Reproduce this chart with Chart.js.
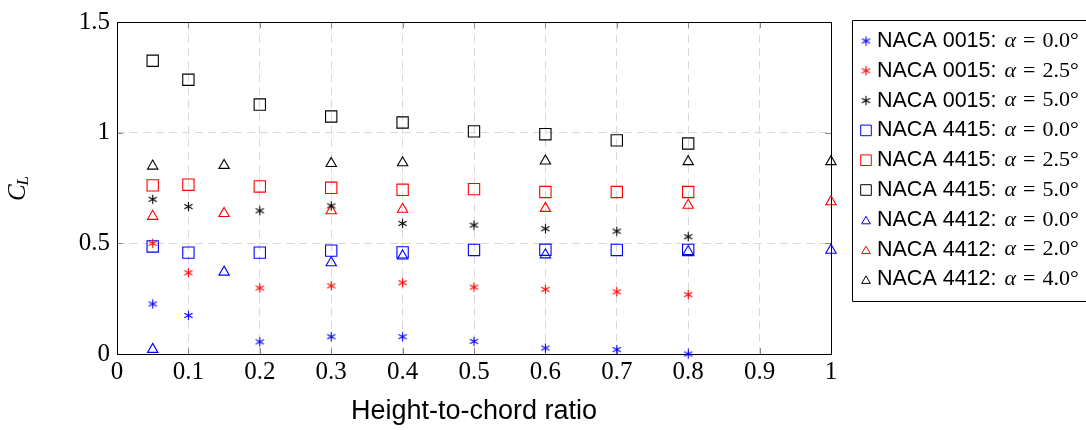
<!DOCTYPE html>
<html>
<head>
<meta charset="utf-8">
<title>Lift coefficient vs height-to-chord ratio</title>
<script src="https://cdn.jsdelivr.net/npm/chart.js@4.4.0/dist/chart.umd.min.js"></script>
<style>
  html, body { margin: 0; padding: 0; background: #fff; }
  #wrap { width: 1086px; height: 430px; position: relative; }
</style>
</head>
<body>
<div id="wrap"><canvas id="clChart" width="1086" height="430"></canvas></div>
<script>
// height-to-chord ratios of the runs
const ratios = [0.05, 0.1, 0.2, 0.3, 0.4, 0.5, 0.6, 0.7, 0.8];
const ratios4412 = [0.05, 0.15, 0.3, 0.4, 0.6, 0.8, 1.0];

// lift coefficient C_L per run
const cl0015a00 = [0.226, 0.174, 0.055, 0.078, 0.078, 0.057, 0.027, 0.020, 0.000];
const cl0015a25 = [0.500, 0.367, 0.298, 0.308, 0.322, 0.302, 0.292, 0.281, 0.268];
const cl0015a50 = [0.699, 0.666, 0.647, 0.669, 0.590, 0.582, 0.566, 0.555, 0.530];
const cl4415a00 = [0.486, 0.458, 0.458, 0.467, 0.459, 0.470, 0.471, 0.470, 0.470];
const cl4415a25 = [0.762, 0.765, 0.757, 0.751, 0.742, 0.745, 0.732, 0.732, 0.732];
const cl4415a50 = [1.325, 1.239, 1.127, 1.073, 1.046, 1.006, 0.993, 0.965, 0.951];
const cl4412a00 = [0.021, 0.370, 0.412, 0.443, 0.448, 0.463, 0.469];
const cl4412a20 = [0.622, 0.635, 0.647, 0.654, 0.658, 0.672, 0.688];
const cl4412a40 = [0.849, 0.852, 0.861, 0.864, 0.872, 0.869, 0.869];

// axis ticks
const xTickValues = [0, 0.1, 0.2, 0.3, 0.4, 0.5, 0.6, 0.7, 0.8, 0.9, 1];
const xTickLabels = ['0', '0.1', '0.2', '0.3', '0.4', '0.5', '0.6', '0.7', '0.8', '0.9', '1'];
const yTickValues = [0, 0.5, 1, 1.5];
const yTickLabels = ['0', '0.5', '1', '1.5'];

// legend texts: profile name and angle of attack
const seriesNames = ['NACA 0015', 'NACA 0015', 'NACA 0015', 'NACA 4415', 'NACA 4415', 'NACA 4415', 'NACA 4412', 'NACA 4412', 'NACA 4412'];
const seriesAngles = ['0.0°', '2.5°', '5.0°', '0.0°', '2.5°', '5.0°', '0.0°', '2.0°', '4.0°'];

const BLUE = '#0000ff';
const RED = '#ff0000';
const BLACK = '#000000';
const legendColors = [BLUE, RED, BLACK, BLUE, RED, BLACK, BLUE, RED, BLACK];

// six-armed asterisk mark, drawn once per colour
function makeAsterisk(color) {
    const size = 11;
    const c = document.createElement('canvas');
    c.width = size;
    c.height = size;
    const g = c.getContext('2d');
    g.strokeStyle = color;
    g.lineWidth = 1.1;
    const m = size / 2;
    const r = 4.7;
    for (let k = 0; k < 3; k++) {
        const a = Math.PI / 2 + k * Math.PI / 3;
        g.beginPath();
        g.moveTo(m + r * Math.cos(a), m - r * Math.sin(a));
        g.lineTo(m - r * Math.cos(a), m + r * Math.sin(a));
        g.stroke();
    }
    return c;
}

const toPoints = (xs, ys) => xs.map((x, i) => ({ x: x, y: ys[i] }));

const makeSet = (xs, ys, color, style) => ({
    data: toPoints(xs, ys),
    showLine: false,
    borderColor: color,
    backgroundColor: 'rgba(0,0,0,0)',
    borderWidth: 1.1,
    pointStyle: style === 'asterisk' ? makeAsterisk(color) : style,
    pointRadius: style === 'rect' ? 8 : 6,
    pointHoverRadius: style === 'rect' ? 8 : 6,
    clip: false
});

const datasets = [
    makeSet(ratios, cl0015a00, BLUE, 'asterisk'),
    makeSet(ratios, cl0015a25, RED, 'asterisk'),
    makeSet(ratios, cl0015a50, BLACK, 'asterisk'),
    makeSet(ratios, cl4415a00, BLUE, 'rect'),
    makeSet(ratios, cl4415a25, RED, 'rect'),
    makeSet(ratios, cl4415a50, BLACK, 'rect'),
    makeSet(ratios4412, cl4412a00, BLUE, 'triangle'),
    makeSet(ratios4412, cl4412a20, RED, 'triangle'),
    makeSet(ratios4412, cl4412a40, BLACK, 'triangle')
];

// frame round the plot and short inward ticks on all four sides
const framePlugin = {
    id: 'frame',
    beforeDatasetsDraw(chart) {
        const { ctx, chartArea: a, scales } = chart;
        ctx.save();
        ctx.strokeStyle = '#8a8a8a';
        ctx.lineWidth = 1;
        const t = 6;
        xTickValues.forEach(v => {
            const px = Math.round(scales.x.getPixelForValue(v)) + 0.5;
            ctx.beginPath();
            ctx.moveTo(px, a.bottom); ctx.lineTo(px, a.bottom - t);
            ctx.moveTo(px, a.top); ctx.lineTo(px, a.top + t);
            ctx.stroke();
        });
        yTickValues.forEach(v => {
            const py = Math.round(scales.y.getPixelForValue(v)) + 0.5;
            ctx.beginPath();
            ctx.moveTo(a.left, py); ctx.lineTo(a.left + t, py);
            ctx.moveTo(a.right, py); ctx.lineTo(a.right - t, py);
            ctx.stroke();
        });
        ctx.strokeStyle = '#000';
        ctx.strokeRect(Math.round(a.left) + 0.5, Math.round(a.top) + 0.5,
            Math.round(a.right - a.left), Math.round(a.bottom - a.top));
        ctx.restore();
    }
};

// rotated C_L title of the y axis
const yTitlePlugin = {
    id: 'yTitle',
    afterDraw(chart) {
        const { ctx, chartArea: a } = chart;
        ctx.save();
        ctx.translate(20, (a.top + a.bottom) / 2);
        ctx.rotate(-Math.PI / 2);
        ctx.fillStyle = '#000';
        ctx.textBaseline = 'middle';
        ctx.font = 'italic 25px "Liberation Serif"';
        const wC = ctx.measureText('C').width;
        ctx.font = 'italic 17px "Liberation Serif"';
        const wL = ctx.measureText('L').width;
        const x0 = -(wC + wL) / 2;
        ctx.font = 'italic 25px "Liberation Serif"';
        ctx.fillText('C', x0, -2);
        ctx.font = 'italic 17px "Liberation Serif"';
        ctx.fillText('L', x0 + wC - 1, 4);
        ctx.restore();
    }
};

// legend box at the right edge, mixed sans/serif text
const legendPlugin = {
    id: 'sideLegend',
    afterDraw(chart) {
        const ctx = chart.ctx;
        const left = 852.5, top = 20.5, bottom = 301.5;
        ctx.save();
        ctx.strokeStyle = '#000';
        ctx.lineWidth = 1;
        ctx.beginPath();
        ctx.moveTo(1090, top);
        ctx.lineTo(left, top);
        ctx.lineTo(left, bottom);
        ctx.lineTo(1090, bottom);
        ctx.stroke();

        ctx.textBaseline = 'middle';
        datasets.forEach((ds, i) => {
            const y = 41 + i * 29.8;
            const style = ds.pointStyle;
            // drawPoint strokes with the current context colour
            ctx.save();
            ctx.strokeStyle = legendColors[i];
            ctx.fillStyle = 'rgba(0,0,0,0)';
            ctx.lineWidth = 1;
            Chart.helpers.drawPoint(ctx, {
                pointStyle: style,
                radius: style === 'rect' ? 7.5 : 5,
                borderWidth: 1,
                rotation: 0
            }, 866, y + (style === 'triangle' ? 1.5 : 0));
            ctx.restore();

            ctx.fillStyle = '#000';
            let x = 877;
            ctx.font = '21.5px "Liberation Sans"';
            const head = seriesNames[i] + ':';
            ctx.fillText(head, x, y);
            x += ctx.measureText(head).width + 8;
            ctx.font = 'italic 22px "Liberation Serif"';
            ctx.fillText('α', x, y);
            x += ctx.measureText('α').width + 7;
            ctx.font = '22px "Liberation Serif"';
            ctx.fillText('=', x, y);
            x += ctx.measureText('=').width + 7;
            ctx.fillText(seriesAngles[i], x, y);
        });
        ctx.restore();
    }
};

new Chart(document.getElementById('clChart'), {
    type: 'scatter',
    data: { datasets: datasets },
    plugins: [framePlugin, yTitlePlugin, legendPlugin],
    options: {
        responsive: false,
        animation: false,
        events: [],
        layout: { padding: { left: 0, top: 21, right: 255, bottom: 0 } },
        plugins: {
            legend: { display: false },
            tooltip: { enabled: false }
        },
        scales: {
            x: {
                type: 'linear',
                min: 0,
                max: 1,
                afterBuildTicks: (scale) => { scale.ticks = xTickValues.map(v => ({ value: v })); },
                afterFit: (scale) => { scale.height = 76; },
                ticks: {
                    padding: 3,
                    color: '#000',
                    font: { family: '"Liberation Serif"', size: 25 },
                    callback: (v, i) => xTickLabels[i]
                },
                grid: { color: '#d9d9d9', lineWidth: 1, drawTicks: false },
                border: { display: false, dash: [8, 5] },
                title: {
                    display: true,
                    text: 'Height-to-chord ratio',
                    color: '#000',
                    font: { family: '"Liberation Sans"', size: 27 },
                    padding: { top: 0, bottom: 2 }
                }
            },
            y: {
                type: 'linear',
                min: 0,
                max: 1.5,
                afterBuildTicks: (scale) => { scale.ticks = yTickValues.map(v => ({ value: v })); },
                afterFit: (scale) => { scale.width = 117; },
                ticks: {
                    padding: 7,
                    color: '#000',
                    font: { family: '"Liberation Serif"', size: 25 },
                    callback: (v, i) => yTickLabels[i]
                },
                grid: { color: '#d9d9d9', lineWidth: 1, drawTicks: false },
                border: { display: false, dash: [8, 5] }
            }
        }
    }
});
</script>
</body>
</html>
